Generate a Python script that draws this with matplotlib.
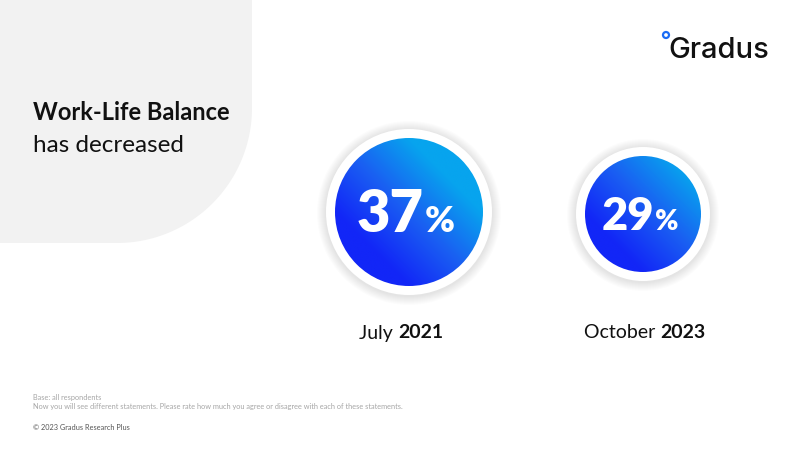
import numpy as np
import matplotlib
matplotlib.use("Agg")
import matplotlib.pyplot as plt
from matplotlib.patches import Circle, PathPatch
from matplotlib.path import Path
from matplotlib.colors import LinearSegmentedColormap
from matplotlib.offsetbox import TextArea, HPacker, AnnotationBbox

# data
months = ["July", "October"]
years = ["2021", "2023"]
values = [37, 29]
title_bold = "Work-Life Balance"
title_rest = "has decreased"
base_note = "Base: all respondents"
question_note = "Now you will see different statements. Please rate how much you agree or disagree with each of these statements."
copyright_note = "\u00a9 2023 Gradus Research Plus"

# layout (pixels, y down)
circle_x = [409, 643]
circle_y = [212, 214]
label_x = [401, 645]
label_y = 333
ring_w = 9
font = "Lato"

blues = LinearSegmentedColormap.from_list("blues", ["#1226f7", "#1a5ff2", "#07a4ee"])

fig = plt.figure(figsize=(8, 4.5), dpi=100)
ax = fig.add_axes([0, 0, 1, 1])
ax.set_xlim(0, 800)
ax.set_ylim(450, 0)
ax.axis("off")

#grey panel with the round corner
R, B, rc = 252, 243, 135
th = np.linspace(0, np.pi / 2, 60)
arc = np.column_stack([R - rc + rc * np.cos(th), B - rc + rc * np.sin(th)])
verts = np.vstack([[[0, 0], [R, 0]], arc, [[0, B], [0, 0]]])
ax.add_patch(PathPatch(Path(verts, closed=True), fc="#f2f2f2", ec="none", zorder=0))

ax.text(33, 120, title_bold, fontsize=17, fontweight="bold", family=font, color="#111111")
ax.text(33, 152, title_rest, fontsize=17.5, family=font, color="#111111")

#circles
for i, v in enumerate(values):
    cx, cy = circle_x[i], circle_y[i]
    r = v * 2.0
    ro = r + ring_w
    for k in range(1, 10):
        ax.add_patch(Circle((cx, cy + 1), ro + k, fc="black", ec="none", alpha=0.012, zorder=1))
    ax.add_patch(Circle((cx, cy), ro, fc="white", ec="none", zorder=2))
    disc = Circle((cx, cy), r, fc="none", ec="none", zorder=3)
    ax.add_patch(disc)
    gx, gy = np.meshgrid(np.linspace(cx - r, cx + r, 200), np.linspace(cy - r, cy + r, 200))
    t = ((gx - cx) - (gy - cy)) / (2 * r) + 0.5
    if i == 1:
        t = t * 0.8
    im = ax.imshow(t, cmap=blues, vmin=0, vmax=1, extent=(cx - r, cx + r, cy + r, cy - r),
                   origin="upper", zorder=3, interpolation="bilinear")
    im.set_clip_path(disc)

    fs = r * 0.78 * 0.72
    num = TextArea(str(v), textprops=dict(fontsize=fs, fontweight="heavy", family=font, color="white"))
    pct = TextArea("%", textprops=dict(fontsize=fs * 0.62, fontweight="heavy", family=font, color="white"))
    box = HPacker(children=[num, pct], align="baseline", pad=0, sep=1)
    ax.add_artist(AnnotationBbox(box, (cx - 3, cy + 0.04 * r), xycoords="data", frameon=False,
                                 box_alignment=(0.5, 0.5), pad=0, zorder=5))

    m = TextArea(months[i] + " ", textprops=dict(fontsize=14, family=font, color="#111111"))
    y = TextArea(years[i], textprops=dict(fontsize=14, fontweight="bold", family=font, color="#111111"))
    lab = HPacker(children=[m, y], align="baseline", pad=0, sep=0)
    ax.add_artist(AnnotationBbox(lab, (label_x[i], label_y), xycoords="data", frameon=False,
                                 box_alignment=(0.5, 0.5), pad=0))

#logo
ax.text(668, 58, "Gradus", fontsize=21, fontweight="medium", family="Inter", color="#111111")
ax.add_patch(Circle((666, 35), 3, fc="white", ec="#1a6cf5", lw=1.6, zorder=5))

#notes
ax.text(33, 400, base_note, fontsize=5.3, family=font, color="#a6a6a6")
ax.text(33, 409, question_note, fontsize=5.3, family=font, color="#a6a6a6")
ax.text(33, 430, copyright_note, fontsize=5.3, family=font, color="#555555")

fig.savefig("out.png", dpi=100)
